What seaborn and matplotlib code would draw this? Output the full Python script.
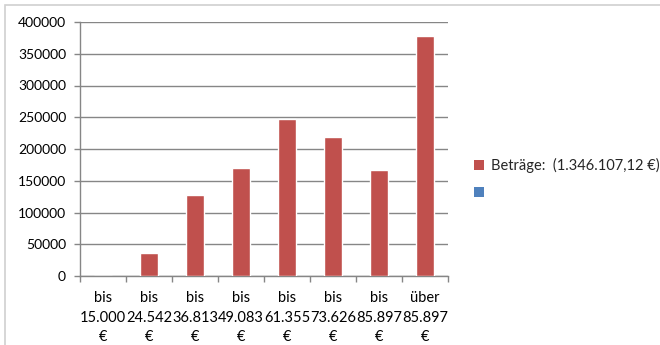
import matplotlib
matplotlib.use("Agg")
import matplotlib.pyplot as plt
import seaborn as sns
import numpy as np
from matplotlib.patches import Patch, Rectangle

# data
grenzen = ["15.000", "24.542", "36.813", "49.083", "61.355", "73.626", "85.897", "85.897"]
praefix = ["bis", "bis", "bis", "bis", "bis", "bis", "bis", "über"]
betraege = [0, 36700, 128000, 170000, 246700, 219400, 166400, 378000]
legend_label = "Beträge:  (1.346.107,12 €)"
yticks = [0, 50000, 100000, 150000, 200000, 250000, 300000, 350000, 400000]

labels = [f"{p}\n{g}\n€" for p, g in zip(praefix, grenzen)]

sns.set_style("white")
plt.rcParams["font.family"] = ["Lato", "DejaVu Sans"]

fig = plt.figure(figsize=(6.6, 3.45), dpi=100)
fig.patches.append(Rectangle((5 / 660, -0.1), 1.2, 1 - 5 / 345 + 0.1, transform=fig.transFigure,
                             facecolor="white", edgecolor="#d0d0d0", linewidth=1.2, zorder=-10))
ax = fig.add_axes([80 / 660, 1 - 276 / 345, 368 / 660, 254 / 345])
ax.patch.set_alpha(0)

sns.barplot(x=list(range(len(betraege))), y=betraege, color="#C0504D", width=0.4,
            saturation=1, ax=ax, zorder=3)

ax.set_xlim(-0.5, len(betraege) - 0.5)
ax.set_ylim(0, 400000)
ax.set_yticks(yticks)
ax.set_yticklabels([str(v) for v in yticks], fontsize=10, color="black")
ax.set_xticks(range(len(labels)))
ax.set_xticklabels(labels, fontsize=10.5, linespacing=1.5, color="black")
ax.set_xticks(np.arange(-0.5, len(labels), 1), minor=True)
ax.tick_params(axis="x", which="major", length=0, pad=11)
ax.tick_params(axis="x", which="minor", length=4, color="#868686", width=1, direction="out", bottom=True)
ax.tick_params(axis="y", length=4, color="#868686", width=1, direction="out", left=True, pad=6)
ax.set_xlabel("")
ax.set_ylabel("")

ax.grid(axis="y", color="#868686", linewidth=1, zorder=0)
ax.set_axisbelow(True)
for s in ["top", "right"]:
    ax.spines[s].set_visible(False)
for s in ["left", "bottom"]:
    ax.spines[s].set_color("#868686")
    ax.spines[s].set_linewidth(1)

handles = [Patch(facecolor="#C0504D", edgecolor="none"),
           Patch(facecolor="#4F81BD", edgecolor="none")]
fig.legend(handles, [legend_label, ""], loc="center left", bbox_to_anchor=(461 / 660, 1 - 179 / 345),
           frameon=False, fontsize=10.5, handlelength=0.7, handleheight=0.7,
           handletextpad=0.45, labelspacing=0.85)

fig.savefig("out.png", dpi=100)
